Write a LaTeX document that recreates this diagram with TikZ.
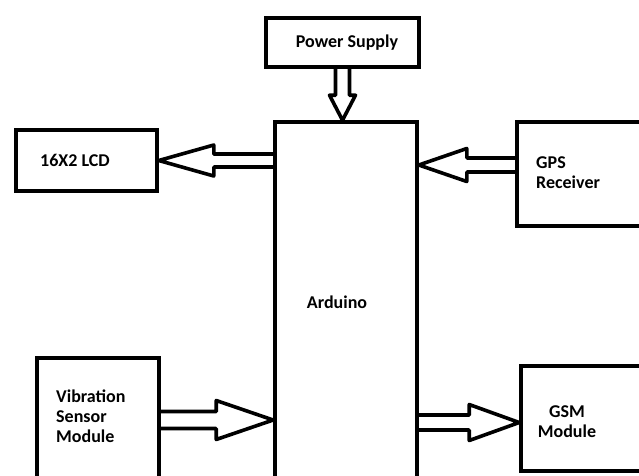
\documentclass[tikz,border=0pt]{standalone}
\usepackage{fontspec}
\setmainfont{Carlito}
\usetikzlibrary{positioning, calc}
\newcommand{\LINEW}{3.6pt}
% hollow block arrow: from #1 to #2, shaft half width #3, head half width #4, head length #5
\newcommand{\blockarrow}[5]{%
    \coordinate (hb) at ($(#2)!#5!(#1)$);
    \draw[arrowline] ($(#1)!#3!90:(#2)$) -- ($(hb)!#3!90:(#2)$) -- ($(hb)!#4!90:(#2)$)
        -- (#2) -- ($(hb)!#4!-90:(#2)$) -- ($(hb)!#3!-90:(#2)$) -- ($(#1)!#3!-90:(#2)$);
}
\tikzset{
    blockbox/.style={draw, line width=\LINEW, inner sep=0pt},
    arrowline/.style={line width=\LINEW, line join=round},
    lbl/.style={font=\bfseries\fontsize{18}{20}\selectfont, inner sep=0pt, align=left}
}

\begin{document}
\begin{tikzpicture}[x=1pt, y=-1pt]
        \useasboundingbox (0, 0) rectangle (639, 475);
        \clip (0, 0) rectangle (639, 475);

        % 方框
        \node[blockbox, minimum width=153, minimum height=49] (power) at (342.5, 42.5) {};
        \node[blockbox, minimum width=142, minimum height=378] (arduino) at (346, 311) {};
        \node[blockbox, minimum width=141, minimum height=61] (lcd) at (86.5, 160.5) {};
        \node[blockbox, minimum width=143, minimum height=104] (gps) at (588.5, 174) {};
        \node[blockbox, minimum width=122, minimum height=142] (vib) at (98, 429) {};
        \node[blockbox, minimum width=139, minimum height=105] (gsm) at (590.5, 418.5) {};

        % 文字
        \node[lbl] (powertext) at (347, 43) {Power Supply};
        \node[lbl] (arduinotext) at (337, 302) {Arduino};
        \node[lbl, anchor=west] (lcdtext) at (40, 160) {16X2 LCD};
        \node[lbl, anchor=west] (gpstext) at (536, 173) {GPS\\Receiver};
        \node[lbl, anchor=west] (vibtext) at (56, 416) {Vibration\\Sensor\\Module};
        \node[lbl, align=center] (gsmtext) at (567, 422) {GSM\\Module};

        % 箭头端点
        \coordinate (powerin) at (power.south |- arduino.north);
        \coordinate (lcdout) at (arduino.west |- lcd.east);
        \coordinate (gpsin) at ([yshift=9pt]arduino.east |- gps.west);
        \coordinate (gpsout) at ([yshift=9pt]gps.west);
        \coordinate (vibin) at ([yshift=9pt]arduino.west |- vib.east);
        \coordinate (vibout) at ([yshift=9pt]vib.east);
        \coordinate (gsmout) at ([yshift=-4pt]arduino.east |- gsm.west);
        \coordinate (gsmin) at ([yshift=-4pt]gsm.west);

        % 箭头
        \blockarrow{power.south}{powerin}{7pt}{13pt}{25pt}
        \blockarrow{lcdout}{lcd.east}{6.5pt}{15.5pt}{55pt}
        \blockarrow{gpsout}{gpsin}{7pt}{16.5pt}{48pt}
        \blockarrow{vibout}{vibin}{8.5pt}{19.5pt}{57pt}
        \blockarrow{gsmout}{gsmin}{7.5pt}{18pt}{50pt}
    \end{tikzpicture}
\end{document}
